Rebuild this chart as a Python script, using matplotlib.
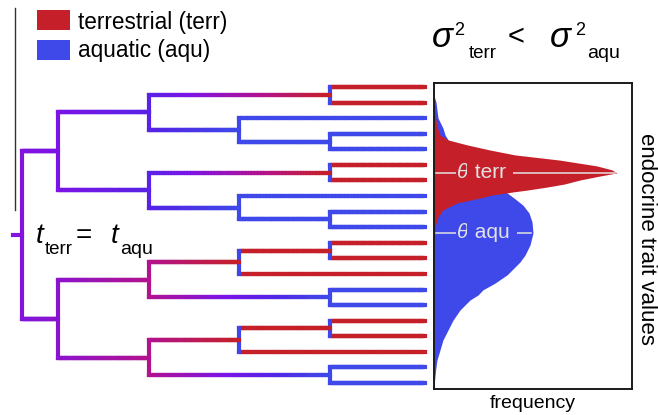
import numpy as np
import matplotlib
matplotlib.use("Agg")
import matplotlib.pyplot as plt
from matplotlib.collections import LineCollection
from matplotlib.colors import LinearSegmentedColormap
from matplotlib.patches import Rectangle

plt.rcParams['font.family'] = ['Liberation Sans', 'DejaVu Sans']

W, H = 658, 415
RED = "#c5202a"
BLUE = "#3f48e8"
LABEL_GREY = "#e2e2e2"

# tip states, top to bottom (1 = terrestrial, 0 = aquatic)
tip_state = [1, 1, 0, 0, 0, 1, 1, 0, 0, 0, 1, 1, 1, 0, 0, 1, 1, 1, 0, 0]
tip_time = 4.45

# internal nodes: (time, ancestral state, children); ints are tip indices
upper_a = (1.4, 0.25, [(3.4, 1, [0, 1]), (2.4, 0, [2, (3.4, 0, [3, 4])])])
upper_b = (1.4, 0.25, [(3.4, 1, [5, 6]), (2.4, 0, [7, (3.4, 0, [8, 9])])])
lower_a = (1.4, 0.72, [(2.4, 1, [(3.4, 1, [10, 11]), 12]), (3.4, 0, [13, 14])])
lower_b = (1.4, 0.72, [(2.4, 1, [(3.4, 1, [15, 16]), 17]), (3.4, 0, [18, 19])])
tree = (0.0, 0.45, [(0.4, 0.42, [upper_a, upper_b]), (0.4, 0.5, [lower_a, lower_b])])

# trait distributions (trait value, frequency)
terr_trait = [9.51, 9.02, 8.79, 8.53, 8.30, 8.14, 7.97, 7.81, 7.65, 7.48, 7.29, 7.16,
              7.06, 6.96, 6.83, 6.70, 6.60, 6.50, 6.44, 6.41, 6.34, 6.24, 6.08, 5.85,
              5.62, 5.29, 4.87]
terr_freq = [0.0, 0.005, 0.01, 0.018, 0.03, 0.071, 0.172, 0.283, 0.409, 0.636, 0.823, 0.899,
             0.924, 0.838, 0.737, 0.66, 0.571, 0.47, 0.399, 0.369, 0.293, 0.232, 0.116, 0.045,
             0.02, 0.005, 0.0]
aqu_trait = [9.58, 9.38, 9.12, 8.86, 8.53, 8.30, 8.14, 7.81, 7.48, 7.16, 6.83, 6.50, 6.41,
             6.24, 6.01, 5.75, 5.46, 5.10, 4.71, 4.38, 4.15, 3.89, 3.73, 3.46, 3.24, 3.07,
             2.91, 2.58, 2.25, 1.93, 1.60, 1.27, 0.95, 0.62, 0.29, 0.0]
aqu_freq = [0.0, 0.01, 0.015, 0.02, 0.045, 0.056, 0.071, 0.121, 0.182, 0.242, 0.303, 0.348,
            0.369, 0.404, 0.449, 0.48, 0.495, 0.5, 0.485, 0.46, 0.434, 0.394, 0.369, 0.308,
            0.247, 0.222, 0.182, 0.131, 0.096, 0.071, 0.045, 0.03, 0.015, 0.008, 0.003, 0.0]
theta_terr = 7.06
theta_aqu = 5.10

cmap = LinearSegmentedColormap.from_list(
    "state", [(0.0, BLUE), (0.22, "#5325e6"), (0.42, "#7c14e6"),
              (0.72, "#b2128f"), (1.0, RED)])
LW = 3.0


def px_rect(x0, y0, x1, y1):
    return [x0 / W, 1 - y1 / H, (x1 - x0) / W, (y1 - y0) / H]


def node_y(node):
    if isinstance(node, int):
        return node
    ys = [node_y(c) for c in node[2]]
    return (ys[0] + ys[-1]) / 2


def branch(ax, t0, t1, y, s0, s1, n=60):
    xs = np.linspace(t0, t1, n)
    segs = [[(xs[k], y), (xs[k + 1], y)] for k in range(n - 1)]
    cols = cmap(np.linspace(s0, s1, n - 1))
    ax.add_collection(LineCollection(segs, colors=cols, linewidths=LW,
                                     capstyle='projecting', clip_on=False))


def draw(ax, node):
    t, s, kids = node
    ys = []
    for c in kids:
        if isinstance(c, int):
            ct, cs, cy = tip_time, tip_state[c], c
        else:
            ct, cs, cy = c[0], c[1], node_y(c)
            draw(ax, c)
        branch(ax, t, ct, cy, s, cs)
        ys.append(cy)
    ax.plot([t, t], [min(ys), max(ys)], color=cmap(s), lw=LW,
            solid_capstyle='projecting', clip_on=False)


fig = plt.figure(figsize=(W / 100, H / 100), dpi=100, facecolor="white")

# tree
ax_t = fig.add_axes(px_rect(22, 87, 425, 383))
ax_t.set_xlim(0, tip_time)
ax_t.set_ylim(len(tip_state) - 1, 0)
ax_t.axis('off')
draw(ax_t, tree)
root_y = node_y(tree)
ax_t.plot([-0.1, 0], [root_y, root_y], color=cmap(tree[1]), lw=LW, clip_on=False)

# trait distributions
ax_d = fig.add_axes(px_rect(434, 83, 632, 389))
ax_d.set_xlim(0, 1)
ax_d.set_ylim(0, 10)
ax_d.set_xticks([])
ax_d.set_yticks([])
for sp in ax_d.spines.values():
    sp.set_linewidth(1.4)
    sp.set_color("#1a1a1a")
ax_d.fill_betweenx(aqu_trait, 0, aqu_freq, color=BLUE, lw=0)
ax_d.fill_betweenx(terr_trait, 0, terr_freq, color=RED, lw=0)

for theta, freq, col, name in [(theta_terr, terr_freq, RED, " terr"),
                               (theta_aqu, aqu_freq, BLUE, " aqu")]:
    ax_d.plot([0.008, max(freq) - 0.01], [theta, theta], color=LABEL_GREY, lw=1.1)
    box = dict(facecolor=col, edgecolor='none', pad=1.2)
    t1 = ax_d.text(0.118, theta, "\u03b8", style='italic', fontsize=15,
                   color=LABEL_GREY, va='center', ha='left', bbox=box)
    ax_d.annotate(name + " ", xy=(1, 0.5), xycoords=t1, fontsize=15,
                  color=LABEL_GREY, va='center', ha='left', bbox=box)

ax_d.text(0.5, -0.047, "frequency", transform=ax_d.transAxes, fontsize=14,
          ha='center', va='center')
ax_d.text(1.075, 0.49, "endocrine trait values", transform=ax_d.transAxes,
          fontsize=16, rotation=270, ha='center', va='center')

# overlay for legend and annotations (pixel coordinates)
ax_o = fig.add_axes([0, 0, 1, 1])
ax_o.set_xlim(0, W)
ax_o.set_ylim(H, 0)
ax_o.axis('off')

ax_o.plot([15, 15], [8, 210], color="#333333", lw=1.0)

ax_o.add_patch(Rectangle((37, 10), 33, 20, color=RED, lw=0))
ax_o.add_patch(Rectangle((37, 40), 33, 20, color=BLUE, lw=0))
ax_o.text(78, 29, "terrestrial (terr)", fontsize=16.3, va='baseline')
ax_o.text(78, 57, "aquatic (aqu)", fontsize=16.3, va='baseline')

ax_o.text(36, 243, "t", style='italic', fontsize=20, va='baseline')
ax_o.text(45, 254, "terr", fontsize=13.5, va='baseline')
ax_o.text(76, 243, "=", fontsize=20, va='baseline')
ax_o.text(111, 243, "t", style='italic', fontsize=20, va='baseline')
ax_o.text(120, 254, "aqu", fontsize=14, va='baseline')

ax_o.text(432, 47, "\u03c3", style='italic', fontsize=25, va='baseline')
ax_o.text(454, 35, "2", fontsize=13, va='baseline')
ax_o.text(469, 58, "terr", fontsize=13.5, va='baseline')
ax_o.text(508, 45, "<", fontsize=21, va='baseline')
ax_o.text(550, 47, "\u03c3", style='italic', fontsize=25, va='baseline')
ax_o.text(575, 35, "2", fontsize=13, va='baseline')
ax_o.text(587, 58, "aqu", fontsize=14, va='baseline')

fig.savefig("out.png", dpi=100, facecolor="white")
